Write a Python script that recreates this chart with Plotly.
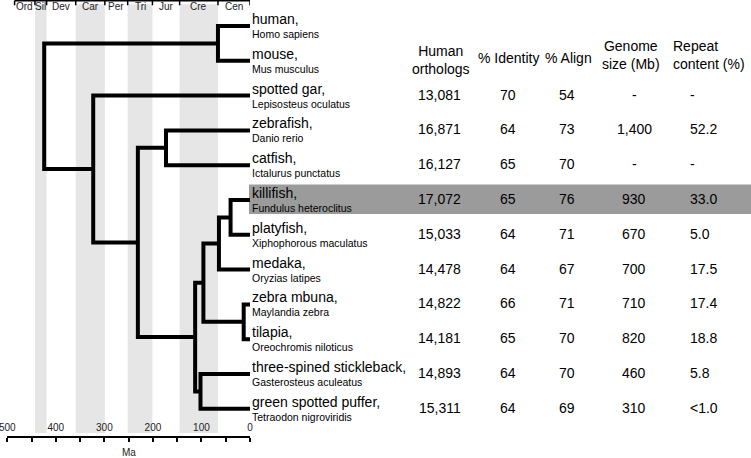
import plotly.graph_objects as go

# ---------------- data ----------------
common = ["human,", "mouse,", "spotted gar,", "zebrafish,", "catfish,", "killifish,",
          "platyfish,", "medaka,", "zebra mbuna,", "tilapia,",
          "three-spined stickleback,", "green spotted puffer,"]
latin = ["Homo sapiens", "Mus musculus", "Lepisosteus oculatus", "Danio rerio",
         "Ictalurus punctatus", "Fundulus heteroclitus", "Xiphophorous maculatus",
         "Oryzias latipes", "Maylandia zebra", "Oreochromis niloticus",
         "Gasterosteus aculeatus", "Tetraodon nigroviridis"]
orthologs = ["", "", "13,081", "16,871", "16,127", "17,072", "15,033", "14,478",
             "14,822", "14,181", "14,893", "15,311"]
identity = ["", "", "70", "64", "65", "65", "64", "64", "66", "65", "64", "64"]
align = ["", "", "54", "73", "70", "76", "71", "67", "71", "70", "70", "69"]
genome = ["", "", "-", "1,400", "-", "930", "670", "700", "710", "820", "460", "310"]
repeat = ["", "", "-", "52.2", "-", "33.0", "5.0", "17.5", "17.4", "18.8", "5.8", "<1.0"]
highlight_row = 5

# internal tree nodes (children: leaf index or node id), ages in Ma
node_id = ["hm", "zc", "kp", "kpm", "ct", "ov", "sp", "perc", "tel", "act", "root"]
node_age = [66, 173, 40, 64, 13, 96, 102, 113, 231, 323, 424]
node_children = [(0, 1), (3, 4), (5, 6), ("kp", 7), (8, 9), ("kpm", "ct"),
                 (10, 11), ("ov", "sp"), ("zc", "perc"), (2, "tel"), ("hm", "act")]

period_names = ["Ord", "Sil", "Dev", "Car", "Per", "Tri", "Jur", "Cre", "Cen"]
period_start = [485, 443, 419, 359, 299, 252, 201, 145, 66]
period_end = [443, 419, 359, 299, 252, 201, 145, 66, 0]

minor_ticks = list(range(50, 500, 100))
axis_labels = list(range(0, 501, 100))

headers = ["Human<br>orthologs", "% Identity", "% Align", "Genome<br>size (Mb)",
           "Repeat<br>content (%)"]

# ---------------- layout constants ----------------
W, H = 751, 458
FONT = "Liberation Sans, Arial, sans-serif"
ROW0, ROWH, AXIS_PX = 26.0, 34.8, 436.0
X0_PX, X1_PX = 7.3, 250.0
y_top = -ROW0 / ROWH
y_bot = (AXIS_PX - ROW0) / ROWH

# ---------------- tree geometry ----------------
pos = {}
for i in range(len(common)):
    pos[i] = (0.0, float(i))
tx, ty = [], []
for nid, age, (a, b) in zip(node_id, node_age, node_children):
    ax_, ay = pos[a]
    bx, by = pos[b]
    tx += [ax_, age, age, bx, None]
    ty += [ay, ay, by, by, None]
    pos[nid] = (age, (ay + by) / 2)

fig = go.Figure()
fig.add_trace(go.Scatter(x=tx, y=ty, mode="lines",
                         line=dict(color="black", width=4),
                         hoverinfo="skip", showlegend=False))

shapes = []
# shaded geological periods
for k, (s, e) in enumerate(zip(period_start, period_end)):
    if k % 2 == 1:
        shapes.append(dict(type="rect", xref="x", yref="y domain", x0=s, x1=e,
                           y0=0.007, y1=0.99, fillcolor="#e6e6e6",
                           line=dict(width=0), layer="below"))
# top period scale line and boundary ticks
shapes.append(dict(type="line", xref="x", yref="y domain", x0=period_start[0], x1=0,
                   y0=0.9985, y1=0.9985, line=dict(color="black", width=1.5)))
for b in period_start + [0]:
    shapes.append(dict(type="line", xref="x", yref="y domain", x0=b, x1=b,
                       y0=0.9985, y1=0.988, line=dict(color="black", width=1.5)))
# highlighted killifish row
shapes.append(dict(type="rect", xref="paper", yref="y", x0=249 / W, x1=1,
                   y0=highlight_row - 15.5 / ROWH, y1=highlight_row + 14 / ROWH,
                   fillcolor="#9b9b9b", line=dict(width=0), layer="below"))

ann = []
for name, s, e in zip(period_names, period_start, period_end):
    ann.append(dict(x=(s + e) / 2, y=(AXIS_PX - 7) / AXIS_PX, xref="x", yref="y domain",
                    text=name, showarrow=False, font=dict(size=10, color="#222"),
                    xanchor="center", yanchor="middle"))
for i in range(len(common)):
    ann.append(dict(x=250 / W, y=i, xref="paper", yref="y", text=common[i],
                    showarrow=False, xanchor="left", yanchor="middle", yshift=7,
                    font=dict(size=14, color="black")))
    ann.append(dict(x=250 / W, y=i, xref="paper", yref="y", text=latin[i],
                    showarrow=False, xanchor="left", yanchor="middle", yshift=-8,
                    font=dict(size=10.5, color="black")))
col_x = [440, 508, 567, 634, 688]
col_anchor = ["center", "center", "center", "center", "left"]
for col, cx, anc in zip([orthologs, identity, align, genome, repeat], col_x, col_anchor):
    for i, v in enumerate(col):
        if v:
            ann.append(dict(x=cx / W, y=i, xref="paper", yref="y", text=v,
                            showarrow=False, xanchor=anc, yanchor="middle", yshift=1,
                            font=dict(size=14, color="black")))
hdr_x = [441, 508, 568, 631, 671]
hdr_y = [60, 58, 58, 55, 55]
hdr_anchor = ["center", "center", "center", "center", "left"]
for t, hx, hy, anc in zip(headers, hdr_x, hdr_y, hdr_anchor):
    ann.append(dict(x=hx / W, y=(H - hy) / H, xref="paper", yref="paper", text=t,
                    showarrow=False, xanchor=anc, yanchor="middle",
                    align="center" if anc == "center" else "left",
                    font=dict(size=14, color="black")))
# axis title
ann.append(dict(x=(X0_PX + X1_PX) / 2 / W, y=(H - 452) / H, xref="paper", yref="paper",
                text="Ma", showarrow=False, xanchor="center", yanchor="middle",
                font=dict(size=10, color="#222")))

fig.update_layout(
    width=W, height=H, margin=dict(l=0, r=0, t=0, b=0, autoexpand=False),
    paper_bgcolor="white", plot_bgcolor="white",
    font=dict(family=FONT, color="black"),
    showlegend=False,
    shapes=shapes, annotations=ann,
    xaxis=dict(domain=[X0_PX / W, X1_PX / W], range=[500, 0], anchor="y",
               automargin=False,
               showline=True, linecolor="black", linewidth=1.5,
               ticks="outside", ticklen=4, tickwidth=1.5, tickcolor="black",
               tickvals=axis_labels, ticklabelposition="inside",
               ticklabeloverflow="allow", ticklabelstandoff=2,
               tickfont=dict(size=10, color="#222"),
               minor=dict(tickvals=minor_ticks, ticks="outside", ticklen=4,
                          tickwidth=1.5, tickcolor="black", showgrid=False),
               showgrid=False, zeroline=False),
    yaxis=dict(domain=[(H - AXIS_PX) / H, 1], range=[y_bot, y_top], visible=False,
               automargin=False, showgrid=False, zeroline=False),
)

fig.write_html("out.html", config={"displayModeBar": False},
               post_script="document.body.style.margin='0';")
